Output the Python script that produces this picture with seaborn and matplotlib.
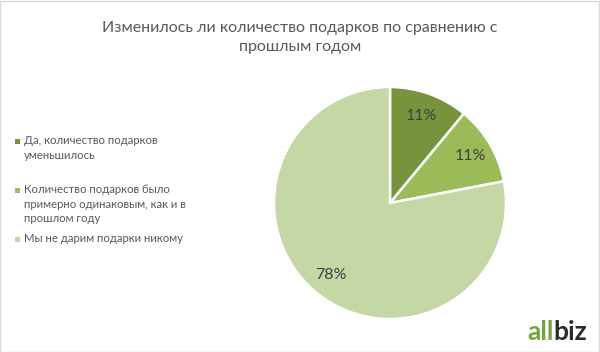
#!/usr/bin/env python3

# plot.py
#
# Pie chart: did the number of gifts change compared to last year.
import matplotlib
matplotlib.use('Agg')
import matplotlib.pyplot as plt
import matplotlib.patches as patches
import seaborn as sb

TITLE = 'Изменилось ли количество подарков по сравнению с\nпрошлым годом'

CATEGORIES = [
  'Да, количество подарков\nуменьшилось',
  'Количество подарков было\nпримерно одинаковым, как и в\nпрошлом году',
  'Мы не дарим подарки никому',
]
SHARES = [11, 11, 78]
COLORS = ['#77933c', '#9bbb59', '#c4d7a4']

# Legend rows, top of each entry in figure pixels (from top)
LEGEND_ROWS = [135, 184, 233]


def plot():
  sb.set_theme(style='white')
  plt.rcParams['font.family'] = ['Lato', 'DejaVu Sans']

  width, height = 600, 352
  figure = plt.figure(figsize=(width / 100, height / 100), dpi=100)
  figure.patch.set_facecolor('white')

  # Pie axis, centered around (390, 203) with radius ~116 px
  radius = 116
  cx, cy = 390, 203
  axis = figure.add_axes([(cx - radius) / width, (height - cy - radius) / height,
                          2 * radius / width, 2 * radius / height])
  wedges, texts, autotexts = axis.pie(
    SHARES, colors=COLORS, startangle=90, counterclock=False,
    autopct='%d%%', pctdistance=0.8,
    wedgeprops={'linewidth': 1.8, 'edgecolor': 'white'},
    textprops={'fontsize': 11.5, 'color': '#404040'})
  axis.set_xlim(-1, 1)
  axis.set_ylim(-1, 1)
  axis.set_aspect('equal')
  axis.axis('off')

  # Title
  figure.text(0.5, 1 - 21 / height, TITLE, ha='center', va='top',
              fontsize=11.5, color='#595959', linespacing=1.5)

  # Manual legend to match the uneven spacing of the original
  for label, color, top in zip(CATEGORIES, COLORS, LEGEND_ROWS):
    figure.patches.append(patches.Rectangle(
      (15 / width, 1 - (top + 9) / height), 5 / width, 5 / height,
      transform=figure.transFigure, facecolor=color, edgecolor='none'))
    figure.text(24 / width, 1 - top / height, label, ha='left', va='top',
                fontsize=8.2, color='#595959', linespacing=1.4)

  # Logo
  first = figure.text(527 / width, 1 - 340 / height, 'all', ha='left', va='baseline',
                      fontsize=19, fontweight='bold', color='#72a53c')
  figure.canvas.draw()
  box = first.get_window_extent()
  figure.text(box.x1 / width, 1 - 340 / height, 'biz', ha='left', va='baseline',
              fontsize=19, fontweight='bold', color='#2b2b2b')

  # Thin frame around the picture
  figure.patches.append(patches.Rectangle(
    (0, 0), 1 - 1 / width, 1 - 1 / height, transform=figure.transFigure,
    facecolor='none', edgecolor='#d9d9d9', linewidth=1))

  figure.savefig('out.png', dpi=100)
  plt.close(figure)


if __name__ == '__main__':
  plot()
